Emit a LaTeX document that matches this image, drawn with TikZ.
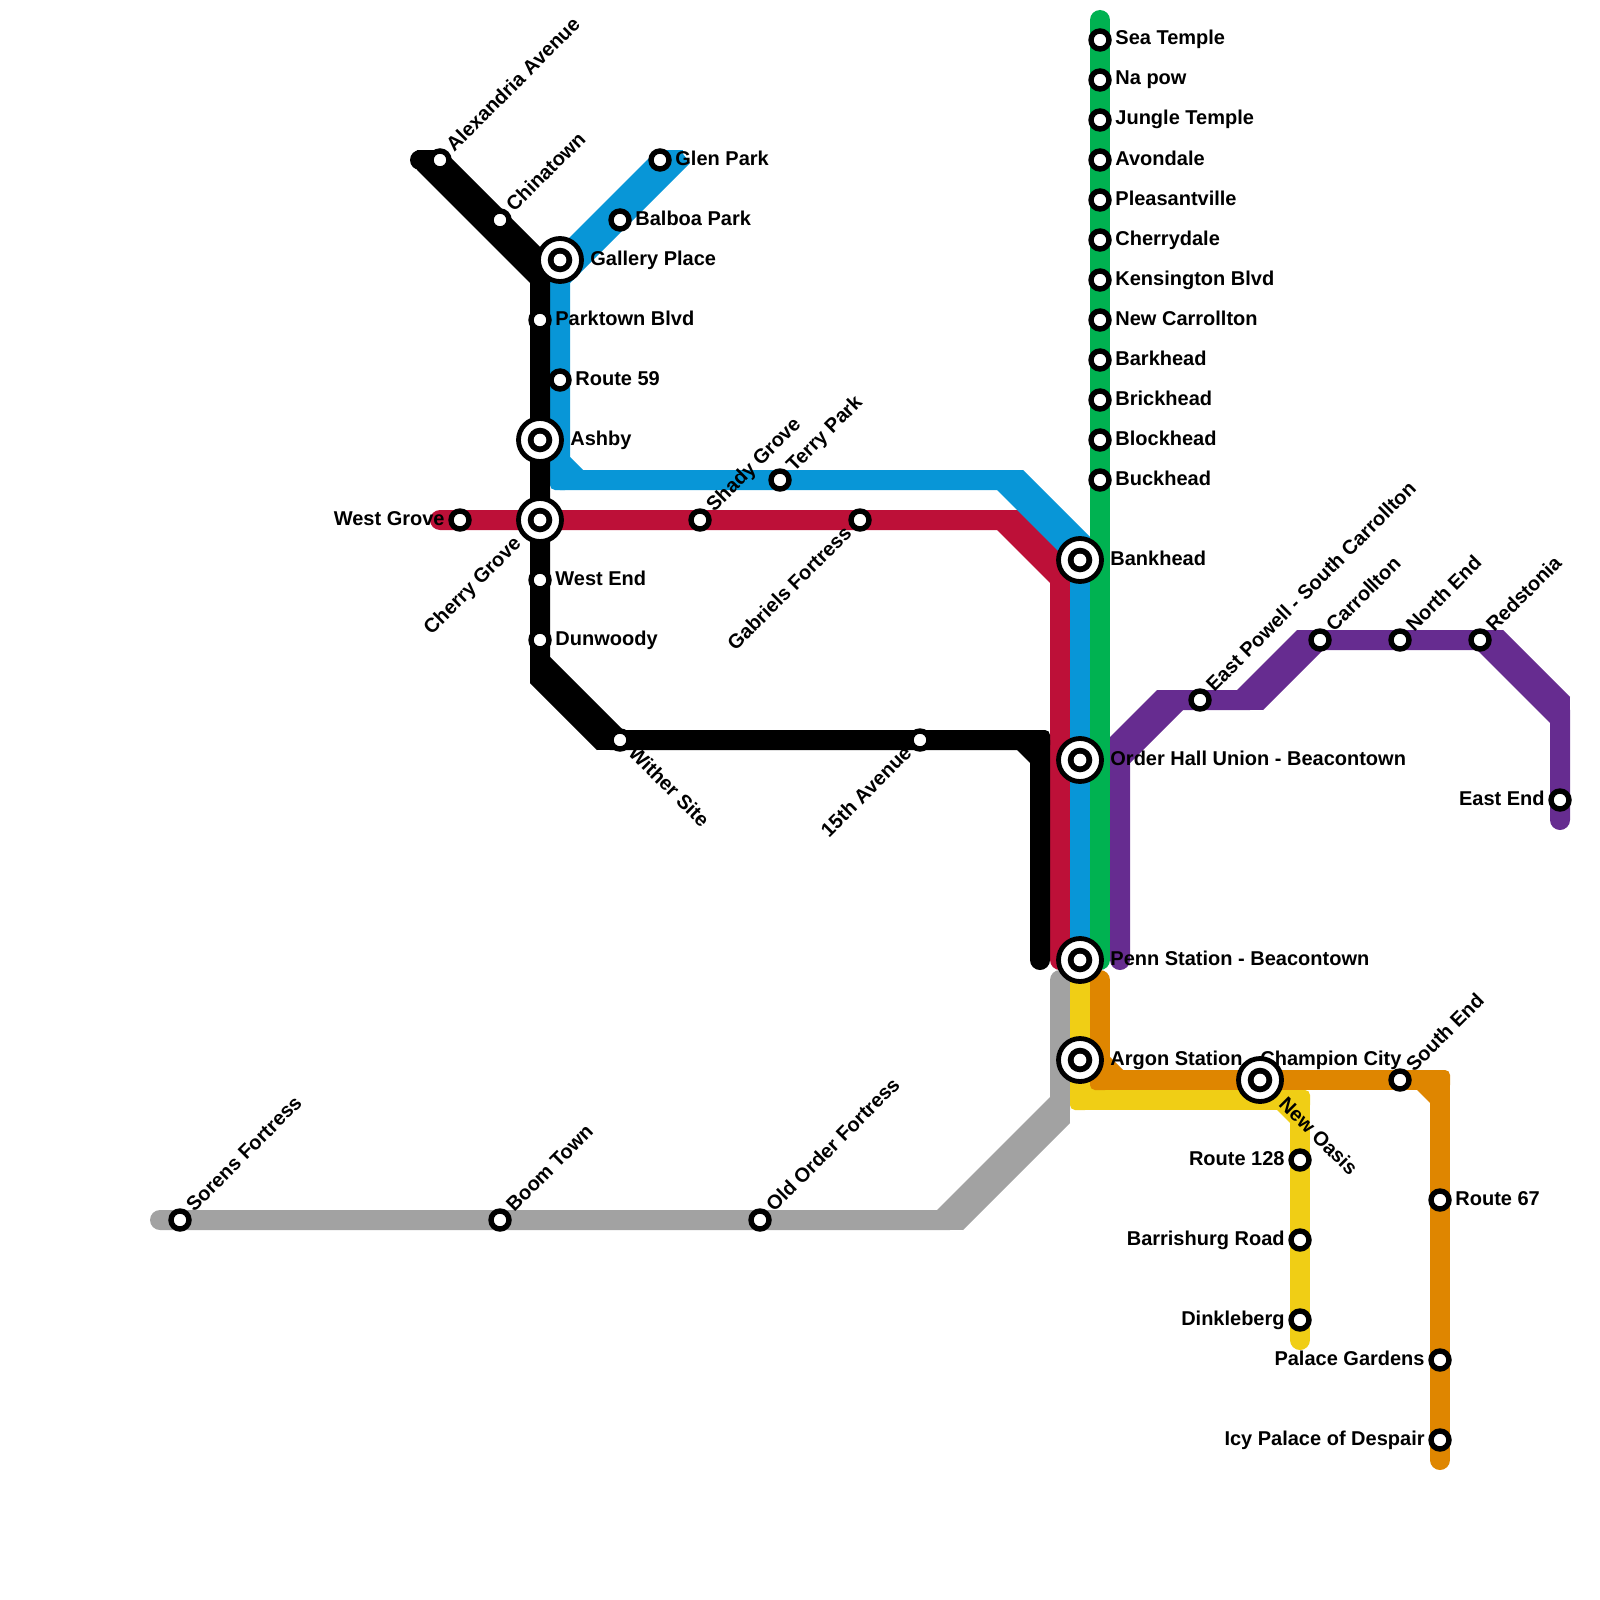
\documentclass[tikz,border=0pt]{standalone}
\usepackage{fontspec}
\setmainfont{Liberation Sans}
\usetikzlibrary{calc}

\definecolor{metroblue}{HTML}{0896D7}
\definecolor{metrored}{HTML}{BD1038}
\definecolor{metrogreen}{HTML}{00B251}
\definecolor{metropurple}{HTML}{662C90}
\definecolor{metrogrey}{HTML}{A2A2A2}
\definecolor{metroyellow}{HTML}{F0CE15}
\definecolor{metroorange}{HTML}{DF8600}

\pgfdeclarelayer{lines}
\pgfdeclarelayer{labels}
\pgfsetlayers{lines,labels,main}

\tikzset{
  route/.style={draw=#1, line width=10pt, line cap=round, line join=round},
  stop/.style={circle, fill=white, draw=black, line width=2.7pt, inner sep=0pt, outer sep=0pt, minimum size=9pt},
  hub/.style={circle, fill=white, draw=black, line width=2.4pt, inner sep=0pt, outer sep=0pt, minimum size=21.5pt,
    path picture={
      \fill[black] (path picture bounding box.center) circle (12.3);
      \fill[white] (path picture bounding box.center) circle (6.3);
    }},
  lab/.style={font=\bfseries\fontsize{10}{12}\selectfont, inner sep=0pt, text=black},
  labe/.style={lab, anchor=base west, xshift=7.5pt, yshift=-2.5pt},
  labh/.style={lab, anchor=base west, xshift=15pt, yshift=-2.5pt},
  labw/.style={lab, anchor=base east, xshift=-7.5pt, yshift=-2.5pt},
  labne/.style={lab, rotate=45, anchor=base west, xshift=7.5pt, yshift=-2.5pt},
  labsw/.style={lab, rotate=45, anchor=base east, xshift=-7.5pt, yshift=-2.5pt},
  labse/.style={lab, rotate=-45, anchor=base west, xshift=7.5pt, yshift=-2.5pt},
}

% fat diagonal: two end points, each with its half offset
\newcommand{\fatdiag}[5]{
  \fill[#1] ($(#2)+(#3)$) -- ($(#4)+(#5)$) -- ($(#4)-(#5)$) -- ($(#2)-(#3)$) -- cycle;
  \fill[#1] ($(#2)+(#3)$) rectangle ($(#2)-(#3)$);
  \fill[#1] ($(#4)+(#5)$) rectangle ($(#4)-(#5)$);
}
% elbow: outer corner rounded, inner corner cut
\newcommand{\elbow}[4]{
  \fill[#1, rounded corners=2.5pt] ($(#2)-(10,10)$) rectangle ($(#2)+(10,10)$);
  \fill[#1] ($(#2)+(-23*#3,-10*#4)$) -- ($(#2)+(-10*#3,-23*#4)$) -- (#2) -- cycle;
}

\begin{document}
\begin{tikzpicture}[x=0.5pt, y=-0.5pt]
  \useasboundingbox (0,0) rectangle (1600,1600);

  % stations
  \foreach \name/\y/\txt in {seatemple/40/Sea Temple, napow/80/Na pow, jungle/120/Jungle Temple,
      avondale/160/Avondale, pleasant/200/Pleasantville, cherrydale/240/Cherrydale,
      kensington/280/Kensington Blvd, carrollton/320/New Carrollton, barkhead/360/Barkhead,
      brickhead/400/Brickhead, blockhead/440/Blockhead, buckhead/480/Buckhead} {
    \node[stop] (\name) at (1100,\y) {};
    \begin{pgfonlayer}{labels}
      \node[labe] (\name-l) at (1100,\y) {\txt};
    \end{pgfonlayer}
  }
  \foreach \name/\x/\y/\txt in {glen/660/160/Glen Park, balboa/620/220/Balboa Park,
      parktown/540/320/Parktown Blvd, routefive/560/380/Route 59,
      westend/540/580/West End, dunwoody/540/640/Dunwoody, routesix/1440/1200/Route 67} {
    \node[stop] (\name) at (\x,\y) {};
    \begin{pgfonlayer}{labels}
      \node[labe] (\name-l) at (\x,\y) {\txt};
    \end{pgfonlayer}
  }
  \foreach \name/\x/\y/\txt in {westgrove/460/520/West Grove, eastend/1560/800/East End,
      routeone/1300/1160/Route 128, barrishurg/1300/1240/Barrishurg Road,
      dinkleberg/1300/1320/Dinkleberg, palace/1440/1360/Palace Gardens,
      icy/1440/1440/Icy Palace of Despair} {
    \node[stop] (\name) at (\x,\y) {};
    \begin{pgfonlayer}{labels}
      \node[labw] (\name-l) at (\x,\y) {\txt};
    \end{pgfonlayer}
  }
  \foreach \name/\x/\y/\txt in {alexandria/440/160/Alexandria Avenue, chinatown/500/220/Chinatown,
      shady/700/520/Shady Grove, terry/780/480/Terry Park,
      powell/1200/700/East Powell - South Carrollton, south/1320/640/Carrollton,
      north/1400/640/North End, redstonia/1480/640/Redstonia, southend/1400/1080/South End,
      sorens/180/1220/Sorens Fortress, boom/500/1220/Boom Town, oldorder/760/1220/Old Order Fortress} {
    \node[stop] (\name) at (\x,\y) {};
    \begin{pgfonlayer}{labels}
      \node[labne] (\name-l) at (\x,\y) {\txt};
    \end{pgfonlayer}
  }
  \foreach \name/\x/\y/\txt in {gabriels/860/520/Gabriels Fortress, fifteenth/920/740/15th Avenue} {
    \node[stop] (\name) at (\x,\y) {};
    \begin{pgfonlayer}{labels}
      \node[labsw] (\name-l) at (\x,\y) {\txt};
    \end{pgfonlayer}
  }
  \node[stop] (wither) at (620,740) {};
  \foreach \name/\x/\y/\txt in {gallery/560/260/Gallery Place, ashby/540/440/Ashby,
      bankhead/1080/560/Bankhead, orderhall/1080/760/Order Hall Union - Beacontown,
      penn/1080/960/Penn Station - Beacontown, argon/1080/1060/Argon Station - Champion City} {
    \node[hub] (\name) at (\x,\y) {};
    \begin{pgfonlayer}{labels}
      \node[labh] (\name-l) at (\x,\y) {\txt};
    \end{pgfonlayer}
  }
  \node[hub] (cherrygrove) at (540,520) {};
  \node[hub] (oasis) at (1260,1080) {};
  \begin{pgfonlayer}{labels}
    \node[labse] (wither-l) at (wither) {Wither Site};
    \node[labsw, xshift=-7.5pt] (cherrygrove-l) at (cherrygrove) {Cherry Grove};
    \node[labse, xshift=7.5pt] (oasis-l) at (oasis) {New Oasis};
  \end{pgfonlayer}

  % bends and line ends
  \coordinate (black0) at (420,160);
  \coordinate (black1) at (430,160);
  \coordinate (black2) at (540,270);
  \coordinate (black3) at (540,670);
  \coordinate (black4) at (610,740);
  \coordinate (black5) at (1040,740);
  \coordinate (black6) at (1040,960);
  \coordinate (blue1) at (670,160);
  \coordinate (blue2) at (560,270);
  \coordinate (blue3) at (560,480);
  \coordinate (blue4) at (1010,480);
  \coordinate (blue5) at (1080,550);
  \coordinate (red0) at (440,520);
  \coordinate (red1) at (1010,520);
  \coordinate (red2) at (1060,570);
  \coordinate (red3) at (1060,960);
  \coordinate (green0) at (1100,20);
  \coordinate (green1) at (1100,960);
  \coordinate (purple0) at (1120,960);
  \coordinate (purple1) at (1120,750);
  \coordinate (purple2) at (1170,700);
  \coordinate (purple3) at (1250,700);
  \coordinate (purple4) at (1310,640);
  \coordinate (purple5) at (1490,640);
  \coordinate (purple6) at (1560,710);
  \coordinate (purple7) at (1560,820);
  \coordinate (grey0) at (1060,980);
  \coordinate (grey1) at (1060,1110);
  \coordinate (grey2) at (950,1220);
  \coordinate (grey3) at (160,1220);
  \coordinate (yellow1) at (1080,1100);
  \coordinate (yellow2) at (1300,1100);
  \coordinate (yellow3) at (1300,1340);
  \coordinate (orange0) at (1100,980);
  \coordinate (orange1) at (1100,1080);
  \coordinate (orange2) at (1440,1080);
  \coordinate (orange3) at (1440,1460);

  \begin{pgfonlayer}{lines}
    \draw[route=metrogrey] (grey0) -- (grey1) -- (grey2) -- (grey3);
    \fatdiag{metrogrey}{grey1}{10,13}{grey2}{13,10}

    \draw[route=metroyellow] (penn.center) -- (argon.center) -- (yellow1) -- (yellow2) -- (routeone.center) -- (yellow3);
    \elbow{metroyellow}{yellow1}{-1}{1}
    \elbow{metroyellow}{yellow2}{1}{-1}

    \draw[route=metroorange] (orange0) -- (orange1) -- (oasis.center) -- (orange2) -- (orange3);
    \elbow{metroorange}{orange1}{-1}{1}
    \elbow{metroorange}{orange2}{1}{-1}

    \draw[route=metrored] (red0) -- (red1) -- (red2) -- (red3);
    \fatdiag{metrored}{red1}{-13,10}{red2}{-10,13}

    \draw[route=metroblue] (blue1) -- (blue2) -- (blue3) -- (blue4) -- (blue5) -- (bankhead.center) -- (orderhall.center) -- (penn.center);
    \fatdiag{metroblue}{blue1}{13,10}{blue2}{10,13}
    \fatdiag{metroblue}{blue4}{-13,10}{blue5}{-10,13}
    \fill[metroblue] ($(blue1)+(13,10)$) -- ($(blue1)+(20,3)$) -- ($(blue1)+(10,-10)$) -- (blue1) -- cycle;
    \elbow{metroblue}{blue3}{-1}{1}

    \draw[route=metrogreen] (green0) -- (seatemple.center) -- (buckhead.center) -- (green1);

    \draw[route=metropurple] (purple0) -- (purple1) -- (purple2) -- (purple3) -- (purple4) -- (purple5) -- (purple6) -- (purple7);
    \fatdiag{metropurple}{purple1}{10,13}{purple2}{13,10}
    \fatdiag{metropurple}{purple3}{13,10}{purple4}{13,10}
    \fatdiag{metropurple}{purple5}{-13,10}{purple6}{-10,13}

    \draw[route=black] (black0) -- (black1) -- (black2) -- (black3) -- (black4) -- (black5) -- (black6);
    \fatdiag{black}{black1}{-13,10}{black2}{-10,13}
    \fatdiag{black}{black3}{-10,13}{black4}{-13,10}
    \elbow{black}{black5}{1}{-1}
  \end{pgfonlayer}
\end{tikzpicture}
\end{document}
